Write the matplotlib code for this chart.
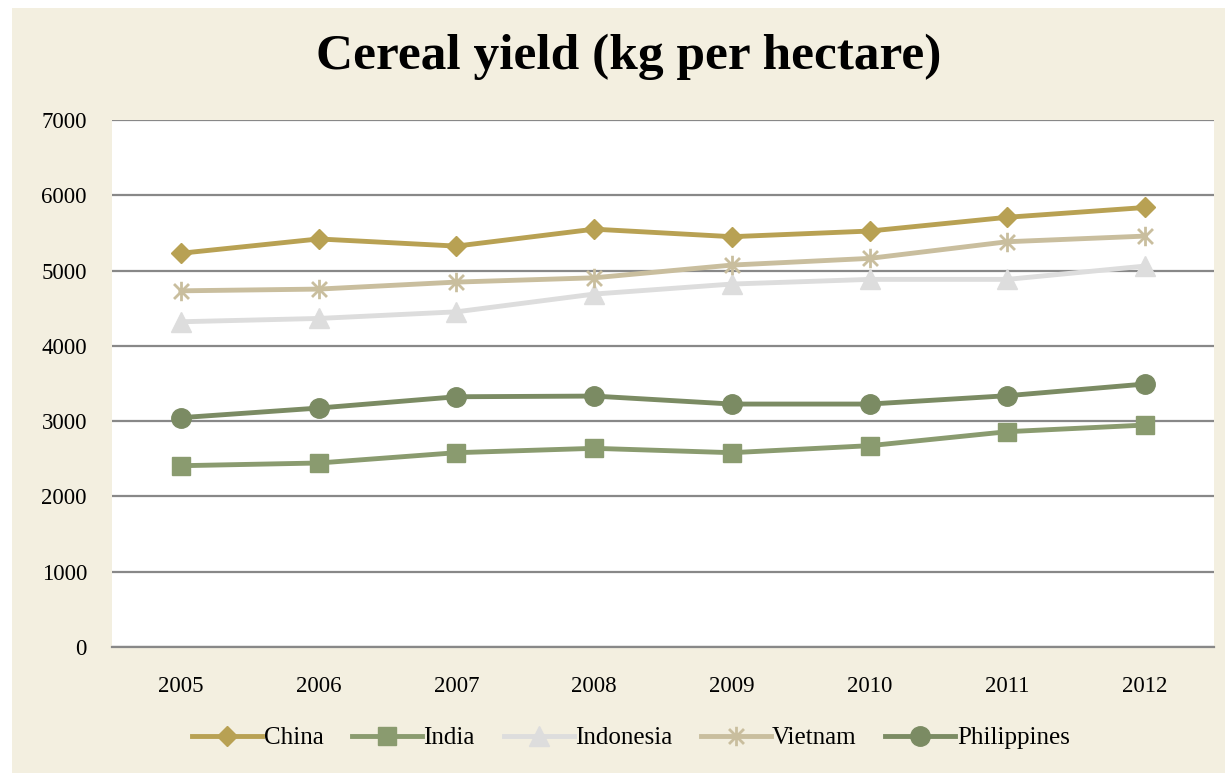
import matplotlib.pyplot as plt
from matplotlib.patches import Rectangle
from matplotlib.path import Path

years = ['2005', '2006', '2007', '2008', '2009', '2010', '2011', '2012']
china = [5230, 5420, 5325, 5550, 5450, 5525, 5708, 5838]
india = [2408, 2444, 2581, 2639, 2581, 2674, 2860, 2948]
indonesia = [4320, 4364, 4452, 4688, 4821, 4883, 4883, 5060]
vietnam = [4731, 4754, 4847, 4904, 5073, 5162, 5383, 5458]
philippines = [3046, 3174, 3324, 3333, 3227, 3227, 3338, 3493]

# asterisk marker: x plus vertical bar
star = Path([(-1, -1), (1, 1), (-1, 1), (1, -1), (0, -1.3), (0, 1.3)],
            [Path.MOVETO, Path.LINETO, Path.MOVETO, Path.LINETO, Path.MOVETO, Path.LINETO])

series = [
    ('China', china, '#B8A153', 'D', 10),
    ('India', india, '#8A9B6F', 's', 13),
    ('Indonesia', indonesia, '#DDDDDD', '^', 14),
    ('Vietnam', vietnam, '#C9BE9E', star, 14),
    ('Philippines', philippines, '#7B8B63', 'o', 14),
]

plt.rcParams['font.family'] = ['Liberation Serif', 'DejaVu Serif']

fig = plt.figure(figsize=(12.25, 7.73), dpi=100, facecolor='white')
fig.patches.append(Rectangle((12 / 1225, 0), 1 - 12 / 1225, 1 - 8 / 773,
                             transform=fig.transFigure, facecolor='#F3EFE0',
                             edgecolor='none', zorder=-10))

ax = fig.add_axes([112 / 1225, 126 / 773, 1102 / 1225, 527 / 773])
ax.set_facecolor('white')

x = list(range(len(years)))
for name, vals, col, mk, ms in series:
    ax.plot(x, vals, color=col, lw=3.5, marker=mk, markersize=ms,
            markerfacecolor=col, markeredgecolor=col,
            markeredgewidth=2 if mk is star else 1, label=name, zorder=3)

ax.set_xlim(-0.5, len(years) - 0.5)
ax.set_ylim(0, 7000)
ax.set_yticks(range(0, 7001, 1000))
ax.set_xticks(x)
ax.set_xticklabels(years)
ax.grid(axis='y', color='#888888', lw=1.6)
ax.set_axisbelow(True)
for s in ['top', 'right', 'left']:
    ax.spines[s].set_visible(False)
ax.spines['bottom'].set_color('#888888')
ax.spines['bottom'].set_linewidth(1.6)
ax.tick_params(axis='both', length=0, labelsize=16.5)
ax.tick_params(axis='y', pad=18)
ax.tick_params(axis='x', pad=21)

fig.text(0.513, 0.926, 'Cereal yield (kg per hectare)', ha='center', va='center',
         fontsize=37, fontweight='bold')

ax.legend(loc='center', bbox_to_anchor=(0.471, -0.173), ncol=5, frameon=False,
          fontsize=18, handlelength=2.8, handletextpad=0.05, columnspacing=1.15)

fig.savefig('out.png', dpi=100, facecolor=fig.get_facecolor())
